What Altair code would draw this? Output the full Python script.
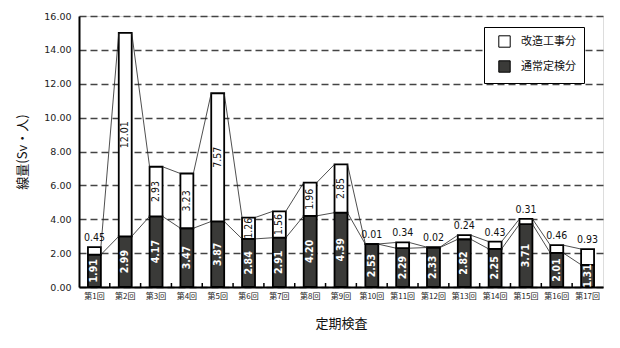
import altair as alt
import pandas as pd

categories = ["第1回", "第2回", "第3回", "第4回", "第5回", "第6回", "第7回", "第8回", "第9回",
              "第10回", "第11回", "第12回", "第13回", "第14回", "第15回", "第16回", "第17回"]
normal = [1.91, 2.99, 4.17, 3.47, 3.87, 2.84, 2.91, 4.20, 4.39, 2.53, 2.29, 2.33, 2.82, 2.25, 3.71, 2.01, 1.31]
modif = [0.45, 12.01, 2.93, 3.23, 7.57, 1.26, 1.56, 1.96, 2.85, 0.01, 0.34, 0.02, 0.24, 0.43, 0.31, 0.46, 0.93]
series_names = ["改造工事分", "通常定検分"]
y_ticks = [0, 2, 4, 6, 8, 10, 12, 14, 16]

FONT = "Noto Sans CJK JP"
NUMFONT = "DejaVu Sans Condensed"
DARK = "#3a3a38"

rows = []
for c, n, m in zip(categories, normal, modif):
    rows.append({"cat": c, "seg": series_names[1], "y0": 0.0, "y1": n, "val": n,
                 "mid": n / 2, "lab": f"{n:.2f}"})
    rows.append({"cat": c, "seg": series_names[0], "y0": n, "y1": n + m, "val": m,
                 "mid": n + m / 2, "lab": f"{m:.2f}"})
df = pd.DataFrame(rows)

lines = []
for i in range(len(categories) - 1):
    lines.append({"c1": categories[i], "c2": categories[i + 1], "v1": normal[i], "v2": normal[i + 1]})
    lines.append({"c1": categories[i], "c2": categories[i + 1],
                  "v1": normal[i] + modif[i], "v2": normal[i + 1] + modif[i + 1]})
ldf = pd.DataFrame(lines)
tdf = pd.DataFrame({"cat": categories[:-1]})

xscale = alt.Scale(domain=categories, paddingInner=0.58, paddingOuter=0.29)
yscale = alt.Scale(domain=[0, 16], nice=False)

X_AXIS = alt.Axis(title="定期検査", labelAngle=0, labelFontSize=8, labelColor="#222",
                  labelFont=FONT, titleFont=FONT, titleFontSize=13, titleFontWeight="normal",
                  titleColor="#111", titlePadding=17, ticks=False, domainColor="black",
                  domainWidth=2, labelPadding=5)
Y_AXIS = alt.Axis(title="線量(Sv・人)", values=y_ticks, format=".2f", grid=True, labelOverlap=False,
                  gridDash=[7, 4], gridColor="#444", gridWidth=1.3, ticks=False,
                  labelFontSize=9.5, labelFont="DejaVu Sans", labelColor="#222",
                  domainColor="black", domainWidth=2, labelPadding=8,
                  titleFont=FONT, titleFontSize=13, titleFontWeight="normal",
                  titleColor="#111", titlePadding=14)


def xenc(field="cat", **kw):
    return alt.X(f"{field}:N", scale=xscale, sort=categories, axis=X_AXIS, **kw)


def yenc(field):
    return alt.Y(f"{field}:Q", scale=yscale, axis=Y_AXIS)


base = alt.Chart(df)

bars = base.mark_bar(stroke="black", strokeWidth=1.8).encode(
    x=xenc(),
    y=yenc("y1"),
    y2="y0:Q",
    fill=alt.Fill("seg:N", scale=alt.Scale(domain=series_names, range=["white", DARK]),
                  legend=alt.Legend(title=None, orient="none", legendX=405, legendY=11,
                                    symbolType="square", symbolSize=130, symbolStrokeColor="black",
                                    symbolStrokeWidth=1, labelFont=FONT, labelFontSize=11,
                                    labelColor="#111", strokeColor="black", padding=8,
                                    fillColor="white", rowPadding=8, labelOffset=10,
                                    symbolOffset=6)),
)

series_lines = alt.Chart(ldf).mark_rule(color="#222", strokeWidth=0.8).encode(
    x=xenc("c1", bandPosition=1),
    x2=alt.X2("c2:N", bandPosition=0),
    y=yenc("v1"),
    y2="v2:Q",
)

x_ticks = alt.Chart(tdf).mark_rule(color="black", strokeWidth=1.5, xOffset=8.9).encode(
    x=xenc("cat", bandPosition=1),
    y=alt.value(271),
    y2=alt.value(267),
)

dark_labels = base.transform_filter(alt.datum.seg == series_names[1]).mark_text(
    angle=270, color="white", fontSize=10.5, font=NUMFONT, fontWeight="bold"
).encode(x=xenc(), y=yenc("mid"), text="lab:N")

white_in = base.transform_filter((alt.datum.seg == series_names[0]) & (alt.datum.val >= 1)).mark_text(
    angle=270, color="#111", fontSize=10.5, font=NUMFONT
).encode(x=xenc(), y=yenc("mid"), text="lab:N")

white_top = base.transform_filter((alt.datum.seg == series_names[0]) & (alt.datum.val < 1)).mark_text(
    color="#111", fontSize=10.5, font=NUMFONT, dy=-9
).encode(x=xenc(), y=yenc("y1"), text="lab:N")

chart = alt.layer(bars, series_lines, x_ticks, dark_labels, white_in, white_top).properties(
    width=524, height=271,
    autosize=alt.AutoSizeParams(type="none"),
    padding={"left": 79, "top": 16, "right": 17, "bottom": 61},
).configure_view(stroke="black", strokeWidth=1.5).configure(background="white")

chart.save("out.html", embed_options={"renderer": "svg", "actions": False})
